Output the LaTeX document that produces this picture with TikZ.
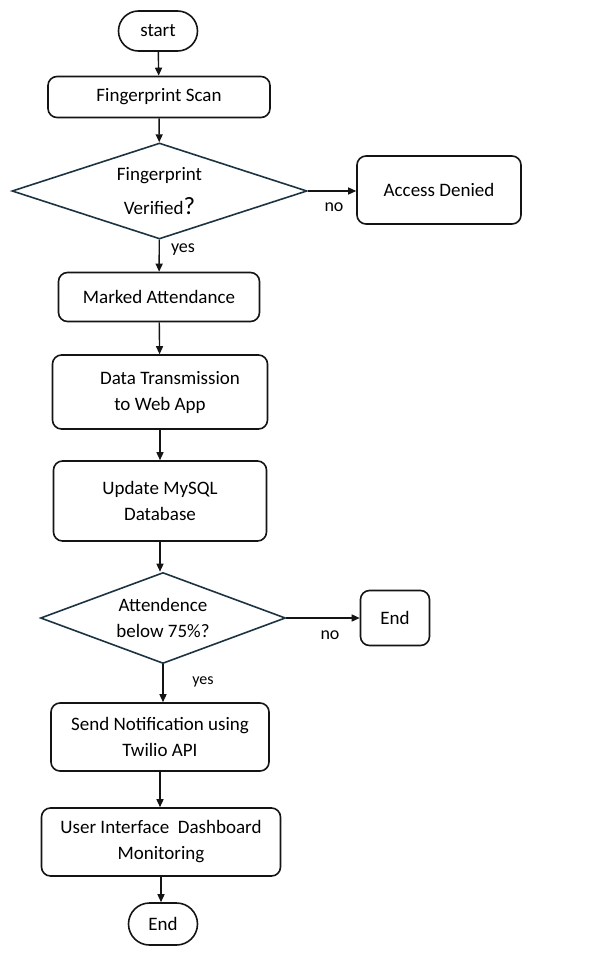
\documentclass[tikz,border=0pt]{standalone}
\usepackage{fontspec}
\setmainfont{Carlito}
\usetikzlibrary{arrows.meta,shapes.geometric,shapes.misc,positioning}
\definecolor{flowline}{RGB}{20,20,20}
\definecolor{flowteal}{RGB}{28,52,66}

\begin{document}
\begin{tikzpicture}[x=1pt,y=-1pt,
  every node/.style={font=\fontsize{19}{26}\selectfont},
  box/.style={draw=flowline,line width=1.6pt,rounded corners=9pt,align=center,inner sep=0pt},
  term/.style={draw=flowline,line width=1.6pt,rounded rectangle,align=center,inner sep=0pt},
  decide/.style={draw=flowteal,line width=1.6pt,diamond,align=center,inner sep=0pt},
  flow/.style={-{Triangle[length=8pt,width=7pt]},line width=1.4pt,draw=flowline},
  lbl/.style={font=\fontsize{18}{20}\selectfont},
]
\useasboundingbox (0,0) rectangle (605,953);

%% Main column
\node[term,minimum width=79,minimum height=40] (start) at (158,31) {start};
\node[box,minimum width=222,minimum height=41] (scan) at (159,97) {Fingerprint Scan};
\node[decide,aspect=3.3,minimum width=295,minimum height=96] (verify) at (159.5,191)
  {Fingerprint\\[8pt]Verified{\Huge ?}};
\node[box,minimum width=201,minimum height=49] (mark) at (159,297) {Marked Attendance};
\node[box,minimum width=215,minimum height=74] (send) at (160,392)
  {\hspace*{20pt}Data Transmission\\to Web App};
\node[box,minimum width=213,minimum height=80] (mysql) at (160,501) {Update MySQL\\Database};
\node[decide,aspect=3,minimum width=245,minimum height=91] (below) at (163,618) {Attendence\\below 75\%?};
\node[box,minimum width=218,minimum height=68] (notify) at (160,737) {Send Notification using\\Twilio API};
\node[box,minimum width=239,minimum height=68] (ui) at (161,842) {User Interface\ \ Dashboard\\Monitoring};
\node[term,minimum width=69,minimum height=42] (stop) at (163,924) {End};

%% Side exits
\node[box,minimum width=164,minimum height=68] (deny) at (439,190) {Access Denied};
\node[box,minimum width=69,minimum height=55] (quit) at (395,618) {End};

%% Labels
\node[lbl] (no1) at (334,207) {no};
\node[lbl] (yes1) at (183,250) {yes};
\node[lbl] (no2) at (330,635) {no};
\node[lbl,font=\fontsize{16}{18}\selectfont] (yes2) at (203,682) {yes};

%% Connectors
\draw[flow] (start) -- (scan);
\draw[flow] (scan) -- (verify);
\draw[flow] (verify.east) -- (deny.west |- verify.east);
\draw[flow] (verify) -- (mark);
\draw[flow] (mark) -- (send);
\draw[flow] (send) -- (mysql);
\draw[flow] (mysql) -- (mysql.south |- below.north);
\draw[flow] (below.east) -- (quit.west);
\draw[flow] (below) -- (below.south |- notify.north);
\draw[flow] (notify) -- (notify.south |- ui.north);
\draw[flow] (ui) -- (ui.south |- stop.north);

\end{tikzpicture}
\end{document}
